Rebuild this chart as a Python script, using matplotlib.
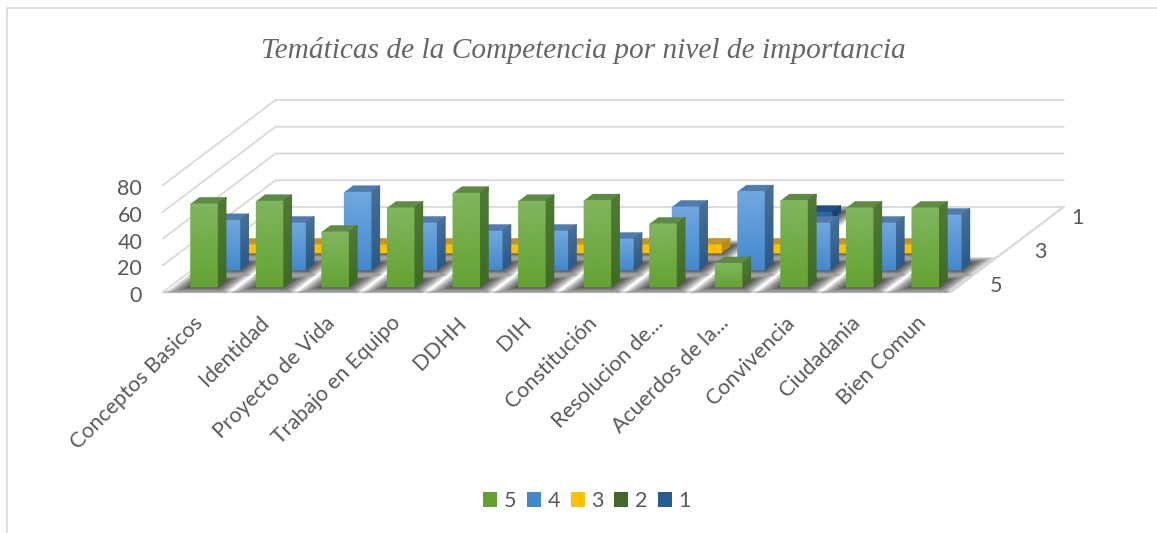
import matplotlib
matplotlib.use('Agg')
import matplotlib.pyplot as plt
from matplotlib.patches import Patch, Polygon
from matplotlib.colors import LinearSegmentedColormap
from matplotlib.transforms import ScaledTranslation
import numpy as np

categories = ['Conceptos Basicos', 'Identidad', 'Proyecto de Vida', 'Trabajo en Equipo', 'DDHH', 'DIH',
              'Constitución', 'Resolucion de...', 'Acuerdos de la...', 'Convivencia', 'Ciudadania', 'Bien Comun']
serie_names = ['5', '4', '3', '2', '1']
serie_5 = [62, 64, 41, 59, 70, 64, 64.5, 47, 17.5, 64.5, 59, 59]
serie_4 = [37, 35, 58, 35, 29, 29, 23, 47, 58.5, 35, 35, 41]
serie_3 = [6, 6, 6, 6, 6, 6, 6, 6, 6, 6, 6, 0]
serie_2 = [0, 0, 0, 0, 0, 0, 0, 0, 0, 0, 0, 0]
serie_1 = [0, 0, 0, 0, 0, 0, 0, 0, 5, 0, 0, 0]
y_ticks = [0, 20, 40, 60, 80]
depth_ticks = ['5', '3', '1']

# front, front bottom, top, side, side bottom
colors = {
    '5': ('#80b65e', '#63a231', '#5f8a45', '#4f7a33', '#3f6b24'),
    '4': ('#70a7df', '#4288cd', '#4f7cab', '#466f98', '#2a5a88'),
    '3': ('#ffc000', '#ffc000', '#c0962a', '#b98e10', '#b98e10'),
    '2': ('#4f7a35', '#43682b', '#36541f', '#2f4a1c', '#2f4a1c'),
    '1': ('#2f6aa5', '#255e91', '#1f4e85', '#1a426f', '#1a426f'),
}
grid_col = '#d9d9d9'
text_col = '#595959'

W, H = 1157, 533
fig = plt.figure(figsize=(W / 100, H / 100), dpi=100)
# axes box is the front plane of the 3d chart
ax = fig.add_axes([163 / W, 1 - 292 / H, 788 / W, 107 / H])
ax.set_xlim(0, 12)
ax.set_ylim(0, 80)
ax.patch.set_alpha(0)
for s in ax.spines.values():
    s.set_visible(False)

px_x = 788 / 12
px_y = 107 / 80
dx_slot = 22.5 / px_x
dy_slot = 17 / px_y
bar_w = 26.5 / px_x
bar_d = 0.387


def proj(x, d, v):
    return x + d * dx_slot, v + d * dy_slot


def grad_face(p0, p1, v, c_bot, c_top, z):
    # p0, p1 = (x, d) of the two lower corners
    a0, b0 = proj(p0[0], p0[1], 0), proj(p1[0], p1[1], 0)
    a1, b1 = proj(p0[0], p0[1], v), proj(p1[0], p1[1], v)
    cm = LinearSegmentedColormap.from_list('f', [c_bot, c_top])
    ax.pcolormesh([[a0[0], b0[0]], [a1[0], b1[0]]], [[a0[1], b0[1]], [a1[1], b1[1]]], [[0, 0], [1, 1]],
                  shading='gouraud', cmap=cm, vmin=0, vmax=1, zorder=z, clip_on=False)


def bar_box(cat, slot):
    x0 = cat * 0.9985 + 0.32
    return x0, x0 + bar_w, slot + 0.3, slot + 0.3 + bar_d


def bar(cat, slot, v, cols, z):
    front, front_b, top, side, side_b = cols
    x0, x1, d0, d1 = bar_box(cat, slot)
    ax.add_patch(Polygon([proj(x0, d0, v), proj(x1, d0, v), proj(x1, d1, v), proj(x0, d1, v)],
                         fc=top, ec=top, lw=0.3, zorder=z, clip_on=False))
    grad_face((x1, d0), (x1, d1), v, side_b, side, z)
    grad_face((x0, d0), (x1, d0), v, front_b, front, z + 0.1)


def shadow(cat, slot):
    x0, x1, d0, d1 = bar_box(cat, slot)
    for k in range(14, 0, -1):
        gx = k * 1.3 / px_x
        gd = k * 0.027
        pts = [proj(x0 - gx, d0 - gd, 0), proj(x1 + gx, d0 - gd, 0), proj(x1 + gx, d1 + gd, 0), proj(x0 - gx, d1 + gd, 0)]
        ax.add_patch(Polygon(pts, fc='black', ec='none', alpha=0.07, zorder=1.5, clip_on=False))


# walls and floor
for v in y_ticks:
    ax.plot(*zip(proj(0, 0, v), proj(0, 5, v), proj(12, 5, v)), color=grid_col, lw=1.3, zorder=1,
            clip_on=False, solid_joinstyle='miter')
ax.plot(*zip(proj(0, 0, 0), proj(12, 0, 0), proj(12, 5, 0)), color=grid_col, lw=1.6, zorder=1.2, clip_on=False)

# bars, back to front
series = [('1', serie_1, 4), ('2', serie_2, 3), ('3', serie_3, 2), ('4', serie_4, 1), ('5', serie_5, 0)]
z = 3
for name, vals, slot in series:
    for cat, v in enumerate(vals):
        if v > 0:
            shadow(cat, slot)
            bar(cat, slot, v, colors[name], z)
            z += 1

# tick labels
font = 'Lato'
fs = 15.5
ax.set_yticks(y_ticks)
ax.set_yticklabels([str(v) for v in y_ticks], fontsize=fs, color=text_col, family=font)
ax.set_xticks(np.arange(len(categories)) + 0.46)
ax.set_xticklabels(categories, rotation=45, ha='right', rotation_mode='anchor', fontsize=fs, color=text_col, family=font)
ax.tick_params(axis='both', length=0)
ax.tick_params(axis='y', pad=15)
ax.tick_params(axis='x', pad=15)
for lab in ax.get_yticklabels():
    lab.set_transform(lab.get_transform() + ScaledTranslation(0, -1.5 / 72, fig.dpi_scale_trans))

for lab, d, off in zip(depth_ticks, [0.5, 2.5, 4.5], [34, 33.5, 25.5]):
    ax.annotate(lab, proj(12, d, 0), xytext=(off * 0.72, -1.5), textcoords='offset points', ha='center', va='center',
                fontsize=fs, color=text_col, family=font, annotation_clip=False)

fig.text(583 / W, 1 - 50 / H, 'Temáticas de la Competencia por nivel de importancia', family='Liberation Serif',
         style='italic', fontsize=21.2, color='#666666', ha='center', va='center')

handles = [Patch(fc=colors[n][1], ec='none', label=n) for n in serie_names]
fig.legend(handles=handles, loc='center', bbox_to_anchor=(587 / W, 1 - 501 / H), ncol=5, frameon=False,
           handlelength=0.65, handleheight=0.65, handletextpad=0.3, columnspacing=0.5,
           prop={'family': font, 'size': fs}, labelcolor=text_col)

# chart border
fig.add_artist(plt.Line2D([7 / W, 7 / W, 1], [0, 1 - 7.5 / H, 1 - 7.5 / H], color=grid_col, lw=1.2))

fig.savefig('out.png', dpi=100)
